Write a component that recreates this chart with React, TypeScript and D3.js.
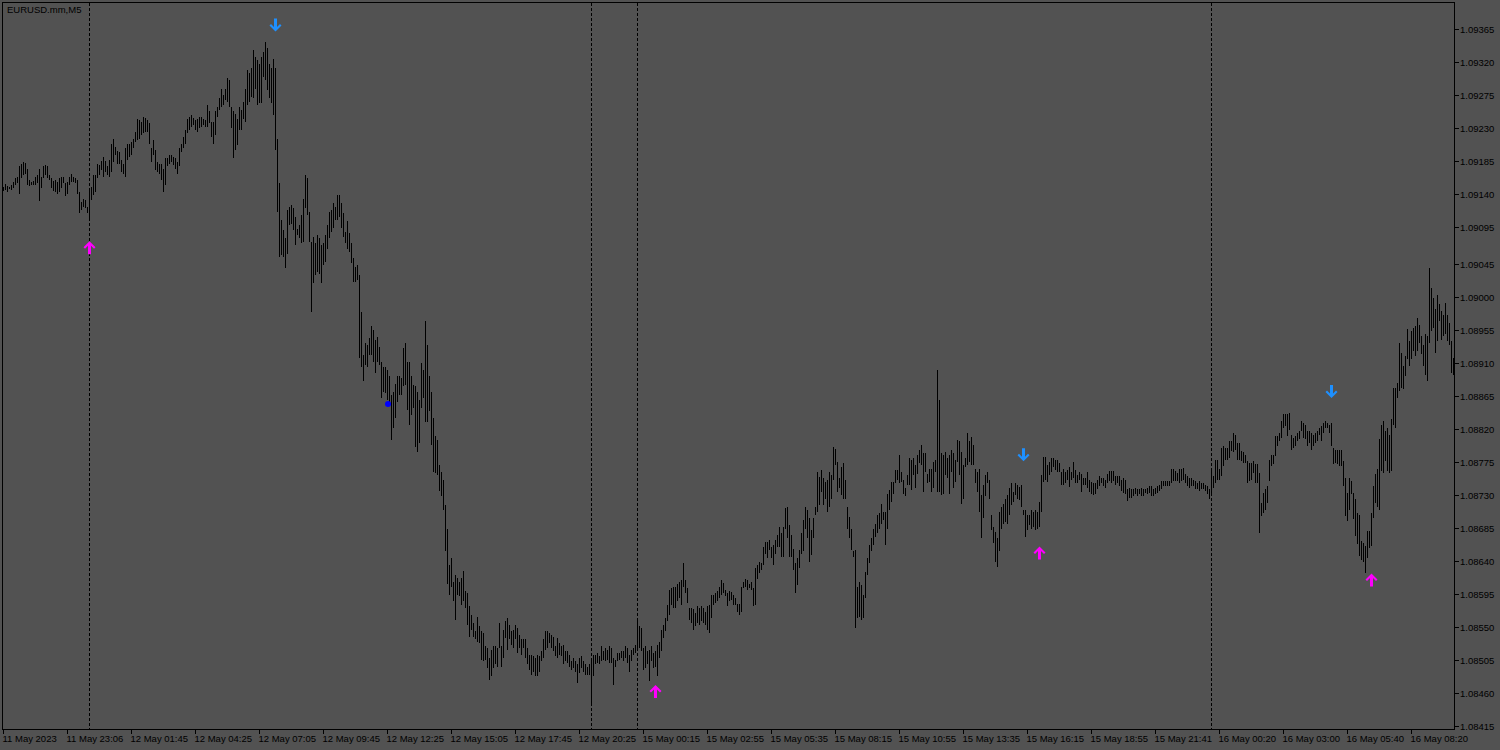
import React from 'react';
import * as d3 from 'd3';

// Prices are stored in points: price = 1.08000 + value * 0.00001
const BASE = 1.08;
const POINT = 0.00001;
const SYMBOL = 'EURUSD.mm,M5';

// 11 May (bars 0-42)
const hi11 = [1150,1154,1152,1150,1153,1157,1162,1164,1178,1182,
1184,1183,1174,1159,1157,1158,1164,1166,1175,1164,
1178,1180,1179,1167,1162,1158,1159,1157,1162,1164,
1164,1155,1157,1164,1168,1164,1162,1159,1143,1130,
1134,1132,1123];
const lo11 = [1144,1146,1143,1147,1146,1148,1153,1155,1141,1162,
1166,1168,1153,1152,1153,1153,1153,1155,1131,1149,
1162,1166,1162,1159,1148,1144,1143,1140,1143,1148,
1155,1138,1140,1153,1157,1157,1155,1141,1114,1119,
1123,1121,1114];

// 12 May (bars 43-316)
const hi12 = [1148,1150,1167,1167,1181,1180,1185,
1191,1185,1178,1187,1209,1216,1205,1199,1198,1187,
1181,1203,1209,1209,1212,1216,1225,1243,1241,1239,
1246,1244,1241,1237,1203,1214,1200,1184,1182,1182,
1175,1189,1189,1193,1193,1191,1189,1184,1203,1209,
1218,1228,1243,1246,1248,1244,1241,1243,1246,1246,
1243,1241,1262,1253,1239,1239,1253,1259,1271,1284,
1275,1284,1298,1296,1259,1253,1250,1243,1259,1255,
1266,1284,1309,1305,1312,1337,1327,1323,1318,1327,
1334,1348,1339,1318,1312,1325,1312,1216,1155,1105,
1091,1080,1119,1123,1125,1121,1109,1093,1098,1112,
1134,1166,1162,1116,1075,1082,1073,1085,1080,1071,
1073,1084,1098,1116,1119,1128,1123,1139,1139,1128,
1114,1089,1103,1087,1073,1053,1041,1044,1030,980,
921,937,935,944,960,955,942,946,932,912,
905,905,901,892,867,871,882,892,892,889,
930,937,912,912,892,880,878,871,860,910,
901,967,935,892,871,835,810,805,771,762,
751,717,683,635,644,612,621,617,612,617,
626,599,596,578,567,555,544,564,551,544,
542,524,521,508,519,524,524,521,555,524,
546,558,562,553,544,546,553,549,539,533,
533,533,521,512,512,510,508,512,510,517,
533,544,544,542,539,537,524,535,528,524,
526,517,517,512,503,508,503,499,508,510,
503,499,496,499,503,512,512,515,510,524,
517,521,519,524,521,508,505,515,515,517,
517,524,521,512,519,521,526];
const lo12 = [1107,1132,1139,1143,1162,1166,1173,
1164,1171,1166,1164,1171,1184,1193,1182,1182,1171,
1168,1163,1187,1191,1193,1203,1212,1214,1216,1221,
1223,1225,1225,1209,1184,1193,1173,1171,1168,1159,
1143,1153,1178,1182,1184,1180,1175,1168,1178,1198,
1203,1209,1223,1228,1232,1234,1228,1225,1230,1232,
1234,1232,1232,1237,1218,1209,1221,1246,1255,1259,
1262,1268,1266,1259,1230,1189,1200,1207,1228,1228,
1243,1239,1262,1266,1273,1271,1284,1262,1264,1264,
1300,1296,1282,1271,1264,1248,1200,1116,1055,1057,
1055,1039,1059,1098,1100,1091,1071,1084,1080,1073,
1075,1121,1112,1075,980,1019,1030,1034,1032,1019,
1044,1048,1066,1080,1089,1094,1105,1105,1109,1094,
1082,1073,1066,1062,1046,1021,1021,1023,917,905,
885,907,905,921,921,912,896,912,907,862,
871,869,860,853,805,821,835,857,867,867,
878,880,846,826,839,848,796,789,801,848,
862,830,830,844,798,762,760,757,735,728,
710,653,608,594,605,585,560,594,592,580,
585,576,553,537,546,537,533,530,528,505,
503,505,494,478,483,494,499,496,521,496,
508,535,519,533,526,521,533,514,521,512,
521,508,499,492,485,489,483,483,489,503,
508,519,521,528,521,517,510,508,512,510,
499,503,501,496,492,494,489,474,487,494,
489,485,485,485,442,483,499,501,499,503,
505,503,505,501,501,471,496,503,505,508,
503,508,501,489,503,512,514];

// 15 May (bars 317-603)
const hi15 = [562,551,549,
521,524,517,519,524,515,517,526,530,546,
553,562,580,601,603,605,605,608,612,614,
637,614,603,576,576,574,569,578,576,578,
576,571,578,580,594,594,596,599,605,614,
610,601,596,599,598,594,589,582,582,605,
612,616,614,609,612,603,630,634,639,637,
659,666,666,668,659,662,668,675,687,678,
687,712,714,689,675,657,637,644,655,678,
696,714,709,698,682,698,714,762,755,764,
753,748,750,762,757,796,793,775,753,768,
773,750,714,700,684,653,655,605,612,607,
594,625,644,662,671,684,691,703,705,718,
707,707,732,737,748,748,764,764,784,762,
750,739,757,780,778,780,771,784,791,798,
787,787,759,766,766,775,778,900,859,787,
784,789,780,784,791,787,778,805,803,789,
771,780,814,803,809,798,766,762,766,730,
743,757,762,750,703,687,680,671,707,714,
718,725,730,739,746,734,746,743,741,743,
709,709,703,703,709,707,709,707,721,757,
782,782,771,775,780,780,778,778,773,762,
766,762,764,768,762,775,764,757,762,759,
753,753,762,750,748,746,747,751,756,753,
753,751,758,763,763,763,756,756,756,751,
753,751,738,740,738,738,740,738,738,740,
738,738,740,742,742,738,740,742,744,749,
749,749,749,749,765,765,763,760,765,765,
767,758,756,753,753,751,749,747,749,747,
747,744,742,738];
const lo15 = [517,521,517,
492,494,499,476,503,494,496,483,508,517,
535,544,558,567,580,576,576,585,589,580,
605,596,583,560,555,546,551,555,553,558,
555,553,546,542,562,580,583,585,589,594,
596,592,578,585,587,580,580,571,566,571,
603,605,600,603,600,578,580,616,623,628,
634,650,644,655,644,634,650,659,659,646,
646,684,671,646,646,628,596,607,630,650,
653,684,671,639,648,671,703,707,716,734,
716,725,707,714,725,750,771,734,739,730,
725,725,684,671,655,646,548,562,564,559,
562,589,621,637,653,662,673,678,684,691,
696,662,684,709,721,732,746,750,746,748,
732,728,743,743,737,757,739,759,773,771,
734,762,746,748,734,739,762,734,734,730,
732,757,753,732,762,739,748,775,757,718,
725,768,771,775,771,771,746,734,707,671,
698,728,746,725,682,664,639,632,653,684,
691,693,691,703,716,721,730,725,723,714,
703,673,682,689,684,687,682,684,687,707,
748,750,748,757,762,768,764,762,762,743,
743,746,750,741,750,753,746,746,750,734,
743,743,739,734,732,730,731,738,742,747,
742,740,747,749,747,749,744,747,742,735,
733,731,722,726,726,728,731,728,731,728,
728,733,731,733,728,728,731,733,735,738,
742,742,742,742,747,749,749,749,747,749,
751,747,742,740,742,742,738,738,735,738,
738,735,731,724];

// 16 May (bars 604-725)
const hi16 = [765,756,778,778,765,794,
797,794,794,803,803,815,812,801,801,790,
788,785,776,774,774,776,772,772,760,719,
733,738,742,778,785,785,810,810,815,831,
840,840,840,842,812,808,810,815,817,831,
828,826,817,817,815,812,815,817,822,824,
828,831,828,826,828,794,792,792,792,792,
776,753,733,753,749,733,724,706,703,667,
665,660,681,681,706,742,758,765,806,826,
831,817,822,812,833,876,876,883,937,924,
906,919,956,940,953,958,960,971,962,947,
935,949,947,1040,1012,999,983,1003,990,981,
976,992,976,965,940,917];
const lo16 = [728,740,747,751,751,756,
769,778,778,781,790,788,792,778,778,776,
774,774,747,749,751,760,747,747,678,701,
706,710,719,749,769,772,783,797,803,808,
822,824,810,819,792,794,797,803,806,817,
808,806,797,801,792,797,801,803,812,803,
815,822,822,815,797,772,774,772,769,769,
742,701,694,710,731,697,674,663,647,642,
638,624,644,658,660,699,719,713,710,763,
760,776,763,760,763,826,822,862,872,876,
874,892,915,906,915,926,919,926,937,922,
906,894,885,937,953,958,924,940,967,942,
947,949,940,935,897,894];

// Signal arrows and markers (bar index, price in points)
const upArrows = [[43, 1067], [326, 462], [518, 651], [684, 614]];
const downArrows = [[136, 1371], [510, 785], [664, 871]];
const dots = [[192, 854]];

// Period separators (bar index)
const separators = [43, 294, 317, 604];

// Price axis labels
const yTickLabels = ['1.09365','1.09320','1.09275','1.09230','1.09185','1.09140','1.09095','1.09045','1.09000','1.08955','1.08910','1.08865','1.08820','1.08775','1.08730','1.08685','1.08640','1.08595','1.08550','1.08505','1.08460','1.08415'];

// Time axis labels (one every 32 bars)
const xTickLabels = ['11 May 2023','11 May 23:06','12 May 01:45','12 May 04:25','12 May 07:05','12 May 09:45','12 May 12:25','12 May 15:05','12 May 17:45','12 May 20:25','15 May 00:15','15 May 02:55','15 May 05:35','15 May 08:15','15 May 10:55','15 May 13:35','15 May 16:15','15 May 18:55','15 May 21:41','16 May 00:20','16 May 03:00','16 May 05:40','16 May 08:20'];
const X_LABEL_STEP = 32;

const highs = [...hi11, ...hi12, ...hi15, ...hi16];
const lows = [...lo11, ...lo12, ...lo15, ...lo16];
const bars = highs.map((h, i) => ({ i, high: BASE + h * POINT, low: BASE + lows[i] * POINT }));

const BG = '#525252';
const FONT = '"Liberation Sans", Arial, sans-serif';

const downPath = 'M-1.5,-6.5 H1.5 V2 L4.5,-1 L6,0.5 L0,6.5 L-6,0.5 L-4.5,-1 L-1.5,2 Z';
const upPath = 'M-1.5,6.5 H1.5 V-2 L4.5,1 L6,-0.5 L0,-6.5 L-6,-0.5 L-4.5,1 L-1.5,-2 Z';

export default function App() {
  const W = 1500, H = 750;
  const left = 2.5, top = 2.5, right = 1454.5, bottom = 729.5;
  const x = d3.scaleLinear().domain([0, bars.length - 1]).range([3.5, 1453.5]);
  const y = d3.scaleLinear().domain([1.08415, 1.09365]).range([726, 29.3]);
  const px = (i: number) => Math.round(x(i) - 0.5) + 0.5;
  const py = (p: number) => y(BASE + p * POINT);

  return (
    <svg width={W} height={H} style={{ position: 'absolute', left: 0, top: 0, display: 'block' }}>
      <rect x={0} y={0} width={W} height={H} fill={BG} />
      {separators.map((s) => (
        <line key={'s' + s} x1={px(s)} x2={px(s)} y1={top} y2={bottom} stroke="#000" strokeWidth={1} strokeDasharray="3,2" shapeRendering="crispEdges" />
      ))}
      <g shapeRendering="crispEdges">
        {bars.map((b) => (
          <line key={b.i} x1={px(b.i)} x2={px(b.i)} y1={y(b.high)} y2={Math.max(y(b.low), y(b.high) + 1)} stroke="#000" strokeWidth={1} />
        ))}
      </g>
      {dots.map(([i, p]) => (
        <circle key={'d' + i} cx={px(i) + 0.5} cy={py(p)} r={3} fill="#0000FF" />
      ))}
      {upArrows.map(([i, p]) => (
        <path key={'u' + i} d={upPath} transform={`translate(${px(i)},${py(p)})`} fill="#FF00FF" />
      ))}
      {downArrows.map(([i, p]) => (
        <path key={'dn' + i} d={downPath} transform={`translate(${px(i)},${py(p)})`} fill="#1E90FF" />
      ))}
      <rect x={left} y={top} width={right - left} height={bottom - top} fill="none" stroke="#000" strokeWidth={1} shapeRendering="crispEdges" />
      <text x={7} y={13} fontFamily={FONT} fontSize={9.5} fill="#000">{SYMBOL}</text>
      {yTickLabels.map((t) => {
        const yy = Math.round(y(+t)) + 0.5;
        return (
          <g key={t}>
            <line x1={right} x2={right + 4} y1={yy} y2={yy} stroke="#000" shapeRendering="crispEdges" />
            <text x={1460} y={yy + 3.5} fontFamily={FONT} fontSize={9.5} fill="#000">{t}</text>
          </g>
        );
      })}
      {xTickLabels.map((t, k) => {
        const xx = px(k * X_LABEL_STEP);
        return (
          <g key={t}>
            <line x1={xx} x2={xx} y1={bottom} y2={bottom + 4} stroke="#000" shapeRendering="crispEdges" />
            <text x={xx - 1} y={742} fontFamily={FONT} fontSize={9.5} fill="#000">{t}</text>
          </g>
        );
      })}
    </svg>
  );
}
